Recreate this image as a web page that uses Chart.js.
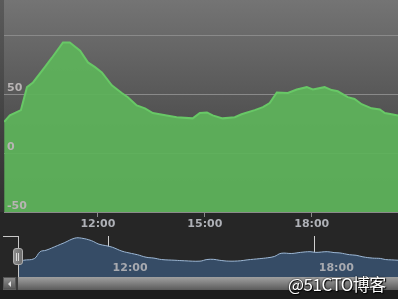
<!DOCTYPE html>
<html>
<head>
<meta charset="utf-8">
<script src="https://cdn.jsdelivr.net/npm/chart.js@4"></script>
<style>
  html, body { margin: 0; padding: 0; background: #1e1e1e; }
  #wrap {
    position: relative; width: 398px; height: 299px; overflow: hidden;
    background: linear-gradient(#5a5a5a 0px, #303030 212px, #262626 212px, #262626 290px, #1c1c1c 290px);
  }
  canvas { position: absolute; }
  #main { left: 0; top: 0; }
  #nav { left: 18px; top: 236px; }
  .ln { position: absolute; background: #c8c8c8; }
  #handle {
    position: absolute; left: 13px; top: 248px; width: 8px; height: 15px;
    background: linear-gradient(90deg, #8a8a8a, #6e6e6e);
    border: 1px solid #b0b0b0; border-radius: 3px;
  }
  #handle i { position: absolute; top: 4px; width: 1px; height: 8px; background: #d8d8d8; }
  #track {
    position: absolute; left: 3px; top: 277px; width: 395px; height: 13px;
    background: linear-gradient(#a0a0a0, #858585 40%, #5a5a5a);
  }
  #btn {
    position: absolute; left: 3px; top: 277px; width: 13px; height: 12px;
    background: linear-gradient(#8c8c8c, #5c5c5c);
    border: 1px solid #555; box-sizing: border-box;
  }
  #btn:after {
    content: ""; position: absolute; left: 4px; top: 3px;
    border-right: 3px solid #e0e0e0; border-top: 3px solid transparent; border-bottom: 3px solid transparent;
  }
  #thumbEdge { position: absolute; left: 16px; top: 277px; width: 2px; height: 13px; background: #3a3a3a; }
  #mark {
    position: absolute; left: 288px; top: 271px;
    font: 17px "Noto Sans CJK SC", sans-serif; color: #ffffff;
    text-shadow: 0 0 2px #000, 1px 1px 1px #000;
    letter-spacing: -0.5px;
  }
</style>
</head>
<body>
<div id="wrap">
  <canvas id="main" width="398" height="240"></canvas>
  <canvas id="nav" width="380" height="41"></canvas>
  <div class="ln" style="left:3px;top:236px;width:16px;height:1px"></div>
  <div class="ln" style="left:18px;top:236px;width:1px;height:41px"></div>
  <div id="handle"><i style="left:2px"></i><i style="left:4px"></i></div>
  <div id="track"></div>
  <div id="btn"></div>
  <div id="thumbEdge"></div>
  <div id="mark">@51CTO博客</div>
</div>
<script>
// hours of the day (decimal) and the plotted values
const hours = [9.37, 9.53, 9.84, 10.01, 10.18, 10.51, 10.71, 11.02, 11.21, 11.5, 11.72, 11.92,
  12.11, 12.39, 12.67, 12.84, 13.09, 13.32, 13.54, 13.93, 14.21, 14.66, 14.86, 15.06, 15.22,
  15.5, 15.84, 16.03, 16.4, 16.63, 16.82, 17.02, 17.33, 17.58, 17.86, 18.03, 18.36, 18.56,
  18.73, 19.01, 19.2, 19.4, 19.68, 19.91, 20.05, 20.24, 20.42];
const values = [26.5, 32, 36.5, 56, 60, 73, 81, 94, 94, 87, 77, 73,
  68.5, 57.5, 51, 47.5, 40.5, 38, 34, 32, 30.5, 29.5, 34, 34.5, 32,
  29.5, 30.5, 33, 36.5, 39, 42.5, 51.5, 51, 54, 56, 54, 56, 53.5,
  52.5, 47.5, 46, 41.5, 38, 37, 34, 33, 32];
const xTicks = [12, 15, 18];
const navTicks = [12, 18];

const points = hours.map((h, i) => ({ x: h, y: values[i] }));
const xMin = 9.365, xMax = 20.42;
const fmt = v => v + ':00';
const labelFont = { family: 'DejaVu Sans', size: 11, weight: 'bold' };

const plotBg = {
  id: 'plotBg',
  beforeDraw(chart) {
    const { ctx, chartArea: a } = chart;
    const g = ctx.createLinearGradient(0, a.top, 0, a.bottom);
    g.addColorStop(0, '#747474');
    g.addColorStop(1, '#363636');
    ctx.save();
    ctx.fillStyle = g;
    ctx.fillRect(a.left, a.top, a.right - a.left, a.bottom - a.top);
    ctx.restore();
  }
};

new Chart(document.getElementById('main'), {
  type: 'line',
  data: {
    datasets: [{
      data: points,
      fill: 'start',
      backgroundColor: 'rgba(94,178,90,0.94)',
      borderColor: '#68c866',
      borderWidth: 2,
      pointRadius: 0,
      tension: 0
    }]
  },
  plugins: [plotBg],
  options: {
    responsive: false,
    animation: false,
    devicePixelRatio: 1,
    layout: { padding: 0 },
    plugins: { legend: { display: false }, tooltip: { enabled: false } },
    scales: {
      x: {
        type: 'linear', min: xMin, max: xMax,
        afterBuildTicks: s => { s.ticks = xTicks.map(v => ({ value: v })); },
        afterFit: s => { s.height = 28; s.paddingLeft = 0; s.paddingRight = 0; },
        grid: { drawOnChartArea: false, tickLength: 5, color: '#8a8a8a' },
        border: { color: '#8a8a8a', z: 1 },
        ticks: { callback: fmt, color: '#aeb0b6', font: labelFont, padding: 1, maxRotation: 0 }
      },
      y: {
        min: -50, max: 130,
        afterFit: s => { s.width = 4; s.paddingTop = 0; s.paddingBottom = 0; },
        grid: { drawTicks: false, color: '#8a8a8a' },
        border: { display: false },
        ticks: {
          z: 1, stepSize: 50, includeBounds: false, mirror: true, padding: 3, labelOffset: -6,
          color: '#b8b4b4', font: labelFont,
          callback: v => (v === 100 ? '' : String(v))
        }
      }
    }
  }
});

const navLabels = {
  id: 'navLabels',
  afterDraw(chart) {
    const { ctx } = chart;
    const sx = chart.scales.x;
    ctx.save();
    ctx.font = 'bold 11px "DejaVu Sans"';
    ctx.fillStyle = '#a8aab0';
    ctx.textBaseline = 'middle';
    navTicks.forEach(v => ctx.fillText(fmt(v), sx.getPixelForValue(v) + 4, 32));
    ctx.restore();
  }
};

new Chart(document.getElementById('nav'), {
  type: 'line',
  data: {
    datasets: [{
      data: points,
      fill: 'start',
      backgroundColor: '#364c66',
      borderColor: '#9db8d6',
      borderWidth: 1,
      pointRadius: 0,
      tension: 0.4
    }]
  },
  plugins: [navLabels],
  options: {
    responsive: false,
    animation: false,
    devicePixelRatio: 1,
    layout: { padding: 0 },
    plugins: { legend: { display: false }, tooltip: { enabled: false } },
    scales: {
      x: {
        type: 'linear', min: xMin, max: xMax,
        afterBuildTicks: s => { s.ticks = navTicks.map(v => ({ value: v })); },
        afterFit: s => { s.height = 0; },
        grid: { color: '#d0d0d0', drawTicks: false },
        border: { display: false },
        ticks: { display: false }
      },
      y: { display: false, min: -15, max: 100 }
    }
  }
});
</script>
</body>
</html>
